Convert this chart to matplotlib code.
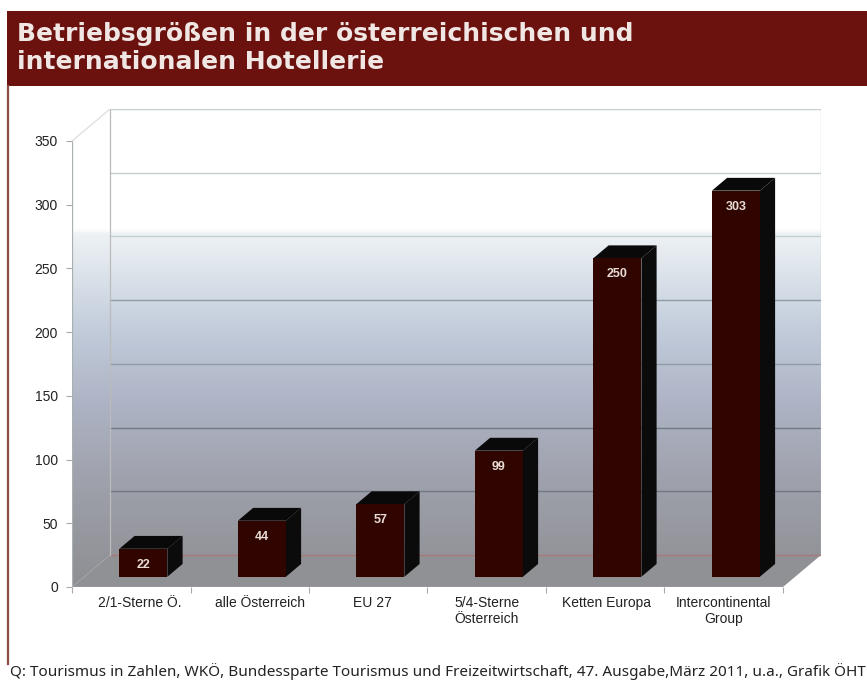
import numpy as np
import matplotlib
matplotlib.use("Agg")
import matplotlib.pyplot as plt
from matplotlib.patches import Polygon, Rectangle
from matplotlib.colors import LinearSegmentedColormap

title_text = "Betriebsgrößen in der österreichischen und\ninternationalen Hotellerie"
source_text = "Q: Tourismus in Zahlen, WKÖ, Bundessparte Tourismus und Freizeitwirtschaft, 47. Ausgabe,März 2011, u.a., Grafik ÖHT"
categories = ["2/1-Sterne Ö.", "alle Österreich", "EU 27", "5/4-Sterne\nÖsterreich", "Ketten Europa", "Intercontinental\nGroup"]
values = [22, 44, 57, 99, 250, 303]
y_ticks = [0, 50, 100, 150, 200, 250, 300, 350]

W, H = 867, 684
fig = plt.figure(figsize=(W / 100, H / 100), dpi=100, facecolor="white")
bg = fig.add_axes([0, 0, 1, 1])
bg.set_xlim(0, W); bg.set_ylim(H, 0); bg.axis("off")
bg.add_patch(Rectangle((7, 11), W - 7, 75, color="#6b120e", lw=0))
bg.plot([8, 8], [86, 664], color="#8a4a45", lw=1.6)
bg.text(17, 48, title_text, color="#f0e6e4", fontsize=18, fontweight="bold",
        family="DejaVu Sans", va="center", linespacing=1.23)
bg.text(10, 672, source_text, color="#222222", fontsize=11, family="Noto Sans", va="center")

# front plane of the chart
x0, x1, y0, y1 = 72, 783, 587, 141
ax = fig.add_axes([x0 / W, 1 - y0 / H, (x1 - x0) / W, (y0 - y1) / H])
n = len(categories)
ax.patch.set_alpha(0)
for s in ax.spines.values():
    s.set_visible(False)

DX = 38 / ((x1 - x0) / n)      # depth offset in category units
DY = 32 / ((y0 - y1) / 350)    # depth offset in value units
def P(x, y, d=0.0):
    return (x + d * DX, y + d * DY)

cmap = LinearSegmentedColormap.from_list("wall", [
    (0.00, "#ffffff"), (0.25, "#ffffff"), (0.26, "#eef2f5"), (0.36, "#d8e0e8"), (0.46, "#c2ccdb"),
    (0.62, "#adb3c4"), (0.80, "#9d9fa9"), (1.00, "#8e8f93")])
grad = np.linspace(0, 1, 256)[:, None]

def wall(poly, ytop, ybot, zorder=1):
    im = ax.imshow(grad, cmap=cmap, aspect="auto", vmin=0, vmax=1,
                   extent=(0, n + DX, ybot, ytop), zorder=zorder, clip_on=True)
    patch = Polygon(poly, closed=True, transform=ax.transData, fc="none", ec="none")
    ax.add_patch(patch)
    im.set_clip_path(patch)

top = 350 + DY
ax.set_xlim(0, n + DX); ax.set_ylim(0, top)
ax.set_position([x0 / W, 1 - y0 / H, (x1 - x0 + 38) / W, (y0 - y1 + 32) / H])

wall([P(0, 0, 1), P(n, 0, 1), P(n, 350, 1), P(0, 350, 1)], top, 0)
wall([P(0, 0), P(0, 0, 1), P(0, 350, 1), P(0, 350)], top, 0)
ax.add_patch(Polygon([P(0, 0), P(n, 0), P(n, 0, 1), P(0, 0, 1)], closed=True, fc="#909195", ec="none", zorder=2))

# gridlines on the back wall and side wall
for i, v in enumerate(y_ticks):
    col = "#a87878" if v == 0 else ("#c4d0d0" if v >= 250 else ("#8f9ca6" if v >= 150 else "#6f7a85"))
    ax.plot(*zip(P(0, v, 1), P(n, v, 1)), color=col, lw=1.0, zorder=3)
ax.plot(*zip(P(0, 0, 1), P(0, 350, 1)), color="#bbbbbb", lw=0.9, zorder=3)
ax.plot(*zip(P(n, 0, 1), P(n, 350, 1)), color="#bdbdbd", lw=0.9, zorder=3)
ax.plot(*zip(P(0, 0), P(0, 350)), color="#a9b0b0", lw=0.9, zorder=3)
ax.plot(*zip(P(0, 350), P(0, 350, 1)), color="#dddddd", lw=0.9, zorder=3)
ax.plot(*zip(P(0, 0), P(n, 0)), color="#b8c4c4", lw=0.9, zorder=3)

# bars
d0, d1, width = 0.32, 0.72, 0.405
for i, v in enumerate(values):
    c = i + 0.5
    l, r = c - width / 2, c + width / 2
    ax.add_patch(Polygon([P(r, 0, d0), P(r, 0, d1), P(r, v, d1), P(r, v, d0)], closed=True, fc="#0b0b0b", ec="none", zorder=5))
    ax.add_patch(Polygon([P(l, v, d0), P(r, v, d0), P(r, v, d1), P(l, v, d1)], closed=True, fc="#090909", ec="none", zorder=5))
    ax.add_patch(Polygon([P(l, 0, d0), P(r, 0, d0), P(r, v, d0), P(l, v, d0)], closed=True, fc="#300500", ec="none", zorder=6))
    ax.annotate(str(v), P(c, v, d0), xytext=(0, -16), textcoords="offset pixels", ha="center", va="center",
                color="#e8dcd6", fontsize=9, fontweight="bold", family="Liberation Sans", zorder=7)

# axes ticks and labels
ax.set_yticks(y_ticks)
ax.set_yticklabels([str(v) for v in y_ticks], family="Liberation Sans", fontsize=10, color="#222222")
ax.tick_params(axis="y", length=4, width=0.8, color="#aaaaaa", pad=6)
ax.set_xticks(range(n + 1))
ax.set_xticklabels([])
ax.tick_params(axis="x", length=4, width=0.8, color="#aaaaaa")
nudges = [8, 10, 4, 0, 1, 0]
for i, lab in enumerate(categories):
    ax.annotate(lab, (i + 0.5, 0), xytext=(nudges[i], -9), textcoords="offset pixels", ha="center", va="top",
                fontsize=10, family="Liberation Sans", color="#222222", linespacing=1.2, annotation_clip=False)

fig.savefig("out.png", dpi=100)
